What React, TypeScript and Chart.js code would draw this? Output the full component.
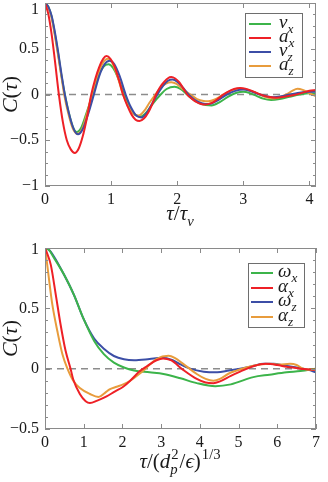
import React, { useEffect, useRef } from "react";
import { Chart, registerables } from "chart.js";
Chart.register(...registerables);

// ---------- top panel data ----------
const topXTicks = [0, 1, 2, 3, 4];
const topYTicks = [-1, -0.5, 0, 0.5, 1];

const vxT = [0, 0.05, 0.1, 0.15, 0.2, 0.25, 0.3, 0.36, 0.42, 0.48, 0.55, 0.62, 0.72, 0.8, 0.88, 0.96, 1.03, 1.1, 1.2, 1.28, 1.36, 1.45, 1.53, 1.62, 1.75, 1.84, 1.96, 2.05, 2.15, 2.25, 2.35, 2.52, 2.65, 2.78, 2.9, 3.0, 3.1, 3.2, 3.3, 3.42, 3.55, 3.7, 3.85, 4.0, 4.1];
const vxC = [1, 0.96, 0.85, 0.66, 0.44, 0.2, 0, -0.2, -0.35, -0.41, -0.36, -0.22, 0, 0.19, 0.3, 0.33, 0.29, 0.19, 0, -0.14, -0.22, -0.24, -0.2, -0.11, 0, 0.06, 0.084, 0.06, 0, -0.06, -0.1, -0.12, -0.08, -0.02, 0.02, 0.03, 0.015, -0.015, -0.045, -0.06, -0.05, -0.025, 0, 0.015, 0.01];

const axT = [0, 0.05, 0.1, 0.15, 0.21, 0.27, 0.33, 0.39, 0.45, 0.51, 0.57, 0.63, 0.7, 0.76, 0.82, 0.88, 0.93, 0.99, 1.05, 1.12, 1.18, 1.25, 1.31, 1.37, 1.43, 1.5, 1.56, 1.62, 1.68, 1.74, 1.8, 1.86, 1.91, 1.97, 2.03, 2.09, 2.15, 2.22, 2.29, 2.36, 2.42, 2.49, 2.56, 2.63, 2.7, 2.78, 2.86, 2.95, 3.03, 3.12, 3.2, 3.3, 3.4, 3.5, 3.62, 3.75, 3.88, 4.0, 4.1];
const axC = [1, 0.88, 0.66, 0.37, 0, -0.3, -0.5, -0.6, -0.64, -0.59, -0.46, -0.27, 0, 0.17, 0.3, 0.39, 0.42, 0.39, 0.31, 0.155, 0, -0.13, -0.22, -0.275, -0.29, -0.26, -0.2, -0.11, 0, 0.08, 0.135, 0.178, 0.19, 0.175, 0.135, 0.07, 0, -0.045, -0.082, -0.103, -0.11, -0.1, -0.077, -0.04, 0, 0.035, 0.06, 0.07, 0.064, 0.043, 0.018, -0.01, -0.028, -0.035, -0.025, -0.008, 0.015, 0.04, 0.05];

const vzT = [0, 0.05, 0.1, 0.15, 0.2, 0.25, 0.3, 0.36, 0.43, 0.5, 0.57, 0.65, 0.74, 0.82, 0.9, 0.98, 1.05, 1.13, 1.22, 1.3, 1.38, 1.46, 1.54, 1.62, 1.7, 1.78, 1.86, 1.93, 2.0, 2.08, 2.17, 2.27, 2.37, 2.48, 2.6, 2.75, 2.88, 3.0, 3.12, 3.25, 3.35, 3.45, 3.58, 3.7, 3.85, 4.0, 4.1];
const vzC = [1, 0.96, 0.86, 0.68, 0.46, 0.22, 0, -0.2, -0.37, -0.435, -0.38, -0.22, 0, 0.2, 0.33, 0.37, 0.33, 0.2, 0, -0.14, -0.23, -0.25, -0.2, -0.1, 0, 0.09, 0.15, 0.163, 0.14, 0.08, 0, -0.06, -0.095, -0.105, -0.07, 0, 0.04, 0.055, 0.035, 0, -0.02, -0.03, -0.02, 0, 0.02, 0.03, 0.03];

const azT = [0, 0.05, 0.1, 0.15, 0.2, 0.25, 0.29, 0.35, 0.42, 0.49, 0.56, 0.63, 0.71, 0.79, 0.87, 0.955, 1.02, 1.1, 1.18, 1.26, 1.34, 1.42, 1.5, 1.58, 1.67, 1.75, 1.83, 1.91, 1.99, 2.08, 2.2, 2.3, 2.4, 2.47, 2.57, 2.7, 2.82, 2.95, 3.05, 3.15, 3.25, 3.35, 3.45, 3.55, 3.65, 3.74, 3.82, 3.9, 4.0, 4.1];
const azC = [1, 0.95, 0.84, 0.64, 0.42, 0.19, 0, -0.2, -0.37, -0.43, -0.38, -0.22, 0, 0.2, 0.34, 0.39, 0.34, 0.19, 0, -0.13, -0.21, -0.23, -0.18, -0.09, 0, 0.075, 0.12, 0.134, 0.115, 0.06, 0, -0.05, -0.072, -0.075, -0.055, 0, 0.045, 0.065, 0.055, 0.03, 0, -0.03, -0.045, -0.03, 0, 0.04, 0.062, 0.05, 0.015, -0.02];

// ---------- bottom panel data ----------
const botXTicks = [0, 1, 2, 3, 4, 5, 6, 7];
const botYTicks = [-0.5, 0, 0.5, 1];

const wxT = [0, 0.1, 0.23, 0.49, 0.75, 1.0, 1.27, 1.52, 1.78, 2.04, 2.3, 2.7, 3.06, 3.5, 3.92, 4.4, 4.8, 5.38, 5.8, 6.24, 6.6, 7.0];
const wxC = [1, 0.985, 0.92, 0.78, 0.61, 0.41, 0.23, 0.12, 0.05, 0.01, -0.015, -0.03, -0.044, -0.08, -0.12, -0.145, -0.13, -0.07, -0.05, -0.03, -0.02, 0];

const alxT = [0, 0.05, 0.15, 0.28, 0.4, 0.53, 0.66, 0.73, 0.9, 1.05, 1.16, 1.35, 1.59, 1.8, 2.02, 2.2, 2.45, 2.63, 2.88, 3.05, 3.25, 3.57, 3.92, 4.15, 4.35, 4.52, 4.8, 5.04, 5.38, 5.7, 6.0, 6.24, 6.6, 6.93, 7.0];
const alxC = [1, 0.96, 0.86, 0.61, 0.37, 0.15, 0, -0.09, -0.21, -0.27, -0.285, -0.265, -0.23, -0.19, -0.15, -0.1, -0.02, 0.02, 0.07, 0.085, 0.07, -0.01, -0.085, -0.115, -0.12, -0.105, -0.06, -0.025, 0.02, 0.04, 0.03, 0.015, 0, -0.01, -0.005];

const wzT = [0, 0.1, 0.23, 0.49, 0.75, 1.0, 1.27, 1.52, 1.78, 2.04, 2.3, 2.7, 3.0, 3.3, 3.5, 3.75, 4.1, 4.45, 4.75, 5.04, 5.35, 5.65, 5.9, 6.2, 6.5, 6.8, 7.0];
const wzC = [1, 0.985, 0.93, 0.78, 0.61, 0.41, 0.25, 0.165, 0.105, 0.078, 0.07, 0.08, 0.09, 0.07, 0.035, 0, -0.025, -0.03, -0.015, 0, 0.02, 0.04, 0.04, 0.025, 0.01, -0.01, -0.03];

const alzT = [0, 0.05, 0.1, 0.19, 0.32, 0.45, 0.58, 0.73, 0.9, 1.16, 1.38, 1.55, 1.68, 1.85, 2.02, 2.2, 2.45, 2.63, 2.88, 3.19, 3.35, 3.57, 3.92, 4.15, 4.35, 4.52, 4.75, 4.95, 5.38, 5.81, 6.05, 6.33, 6.5, 6.67, 7.0];
const alzC = [1, 0.88, 0.75, 0.53, 0.31, 0.12, 0, -0.1, -0.16, -0.21, -0.235, -0.2, -0.17, -0.15, -0.13, -0.1, -0.04, 0.01, 0.08, 0.107, 0.09, 0.04, -0.044, -0.085, -0.1, -0.085, -0.04, -0.016, 0.025, 0.04, 0.035, 0.04, 0.03, 0, -0.01];

const GREEN = "#3cb44a";
const RED = "#ee2026";
const BLUE = "#3c4ea6";
const ORANGE = "#e89c3c";

const SERIF = '"Liberation Serif", serif';
const INK = "#1a1a1a";

type Seg = { t: string; it?: boolean; sub?: string; sup?: string };

function segFont(size: number, it?: boolean) {
  return `${it ? "italic " : ""}${size}px ${SERIF}`;
}

function layoutSegs(ctx: CanvasRenderingContext2D, segs: Seg[], size: number, draw: boolean, x0: number, y: number) {
  let cx = x0;
  for (const s of segs) {
    ctx.font = segFont(size, s.it);
    if (draw) ctx.fillText(s.t, cx, y);
    cx += ctx.measureText(s.t).width;
    let extra = 0;
    if (s.sub) {
      ctx.font = segFont(size * 0.7, /[a-z]/.test(s.sub));
      if (draw) ctx.fillText(s.sub, cx, y + size * 0.28);
      extra = Math.max(extra, ctx.measureText(s.sub).width);
    }
    if (s.sup) {
      ctx.font = segFont(size * 0.7, false);
      if (draw) ctx.fillText(s.sup, cx + 1, y - size * 0.42);
      extra = Math.max(extra, ctx.measureText(s.sup).width + 1);
    }
    cx += extra + (extra ? 1 : 0);
  }
  return cx - x0;
}

function drawSegs(ctx: CanvasRenderingContext2D, segs: Seg[], x: number, y: number, size: number, align: "left" | "center") {
  ctx.textAlign = "left";
  ctx.textBaseline = "alphabetic";
  const w = layoutSegs(ctx, segs, size, false, 0, 0);
  const x0 = align === "center" ? x - w / 2 : x;
  layoutSegs(ctx, segs, size, true, x0, y);
}

type Decor = {
  xTitle: Seg[];
  xTitleY: number;
  yTitle: Seg[];
  yTitleX: number;
  yMinor: number;
  yTicks: number[];
  legend: { color: string; label: Seg[] }[];
  legendBox: { x: number; y: number; w: number; h: number; lineX0: number; lineX1: number; textX: number; rowY: number[] };
  fontSize: number;
};

const fmt = (v: number) => (v < 0 ? "\u2212" + String(Math.abs(v)) : String(v));

function makePlugin(d: Decor) {
  return {
    id: "decor",
    beforeDatasetsDraw(chart: any) {
      const ctx: CanvasRenderingContext2D = chart.ctx;
      const a = chart.chartArea;
      const ys = chart.scales.y;
      const y0 = ys.getPixelForValue(0);
      ctx.save();
      ctx.strokeStyle = "#8c8c8c";
      ctx.lineWidth = 1.5;
      ctx.setLineDash([7, 5]);
      ctx.beginPath();
      ctx.moveTo(a.left, y0);
      ctx.lineTo(a.right, y0);
      ctx.stroke();
      ctx.restore();
    },
    afterDatasetsDraw(chart: any) {
      const ctx: CanvasRenderingContext2D = chart.ctx;
      const a = chart.chartArea;
      const xs = chart.scales.x;
      const ys = chart.scales.y;
      ctx.save();
      // box
      ctx.strokeStyle = "#8a8a8a";
      ctx.lineWidth = 1;
      ctx.strokeRect(a.left + 0.5, a.top + 0.5, a.right - a.left - 1, a.bottom - a.top - 1);
      // inward ticks
      ctx.beginPath();
      for (const t of xs.ticks) {
        const px = Math.round(xs.getPixelForValue(t.value)) + 0.5;
        ctx.moveTo(px, a.bottom);
        ctx.lineTo(px, a.bottom - 5);
        ctx.moveTo(px, a.top);
        ctx.lineTo(px, a.top + 5);
      }
      const n = Math.round((ys.max - ys.min) / d.yMinor);
      for (let i = 0; i <= n; i++) {
        const v = ys.min + i * d.yMinor;
        const major = Math.abs(v * 2 - Math.round(v * 2)) < 1e-6;
        const L = major ? 5 : 3;
        const py = Math.round(ys.getPixelForValue(v)) + 0.5;
        ctx.moveTo(a.left, py);
        ctx.lineTo(a.left + L, py);
        ctx.moveTo(a.right, py);
        ctx.lineTo(a.right - L, py);
      }
      ctx.stroke();
      // y tick labels
      ctx.fillStyle = INK;
      ctx.font = `16px ${SERIF}`;
      ctx.textAlign = "right";
      ctx.textBaseline = "middle";
      for (const v of d.yTicks) {
        const py = Math.max(ys.getPixelForValue(v), 10);
        ctx.fillText(fmt(v), a.left - 6, py);
      }
      // legend
      const L = d.legendBox;
      ctx.fillStyle = "#ffffff";
      ctx.fillRect(L.x, L.y, L.w, L.h);
      ctx.strokeStyle = "#6e6e6e";
      ctx.lineWidth = 1;
      ctx.strokeRect(L.x + 0.5, L.y + 0.5, L.w, L.h);
      d.legend.forEach((e, i) => {
        const ry = L.rowY[i];
        ctx.strokeStyle = e.color;
        ctx.lineWidth = 2;
        ctx.beginPath();
        ctx.moveTo(L.lineX0, ry);
        ctx.lineTo(L.lineX1, ry);
        ctx.stroke();
        ctx.fillStyle = INK;
        drawSegs(ctx, e.label, L.textX, ry + 4, d.fontSize, "left");
      });
      // axis titles
      ctx.fillStyle = INK;
      drawSegs(ctx, d.xTitle, (a.left + a.right) / 2, d.xTitleY, 21, "center");
      ctx.save();
      ctx.translate(d.yTitleX, (a.top + a.bottom) / 2);
      ctx.rotate(-Math.PI / 2);
      drawSegs(ctx, d.yTitle, 0, 0, 22, "center");
      ctx.restore();
      ctx.restore();
    },
  };
}

function zip(t: number[], c: number[]) {
  return t.map((x, i) => ({ x, y: c[i] }));
}

type PanelProps = {
  width: number;
  height: number;
  series: { color: string; t: number[]; c: number[] }[];
  xMax: number;
  yMin: number;
  xTicks: number[];
  padTop: number;
  xAxisH: number;
  decor: Decor;
};

function Panel(p: PanelProps) {
  const ref = useRef<HTMLCanvasElement>(null);
  useEffect(() => {
    const chart = new Chart(ref.current as HTMLCanvasElement, {
      type: "line",
      data: {
        datasets: p.series.map((s) => ({
          data: zip(s.t, s.c),
          borderColor: s.color,
          borderWidth: 2,
          pointRadius: 0,
          fill: false,
          cubicInterpolationMode: "monotone" as const,
        })),
      },
      options: {
        responsive: false,
        animation: false,
        devicePixelRatio: 1,
        layout: { padding: { top: p.padTop, right: 12, left: 0, bottom: 0 } },
        plugins: { legend: { display: false }, tooltip: { enabled: false } },
        scales: {
          x: {
            type: "linear",
            min: 0,
            max: p.xMax,
            grid: { display: false, drawTicks: false },
            border: { display: false },
            afterBuildTicks: (s: any) => {
              s.ticks = p.xTicks.map((v) => ({ value: v }));
            },
            afterFit: (s: any) => {
              s.height = p.xAxisH;
              s.paddingLeft = 0;
              s.paddingRight = 0;
            },
            ticks: {
              padding: 4,
              maxRotation: 0,
              autoSkip: false,
              color: INK,
              font: { family: SERIF, size: 16 },
              callback: (v: any) => fmt(Number(v)),
            },
          },
          y: {
            type: "linear",
            min: p.yMin,
            max: 1,
            grid: { display: false, drawTicks: false },
            border: { display: false },
            afterFit: (s: any) => {
              s.width = 45;
              s.paddingTop = 0;
              s.paddingBottom = 0;
            },
            ticks: { display: false },
          },
        },
      },
      plugins: [makePlugin(p.decor)],
    });
    return () => chart.destroy();
  }, []);
  return <canvas ref={ref} width={p.width} height={p.height} style={{ display: "block" }} />;
}

const C_TAU: Seg[] = [{ t: "C", it: true }, { t: "(" }, { t: "\u03c4", it: true }, { t: ")" }];

export default function App() {
  const topDecor: Decor = {
    xTitle: [{ t: "\u03c4", it: true }, { t: "/" }, { t: "\u03c4", it: true, sub: "v" }],
    xTitleY: 220,
    yTitle: C_TAU,
    yTitleX: 17,
    yMinor: 0.125,
    yTicks: topYTicks,
    legend: [
      { color: GREEN, label: [{ t: "v", it: true, sub: "x" }] },
      { color: RED, label: [{ t: "a", it: true, sub: "x" }] },
      { color: BLUE, label: [{ t: "v", it: true, sub: "z" }] },
      { color: ORANGE, label: [{ t: "a", it: true, sub: "z" }] },
    ],
    legendBox: { x: 245, y: 13, w: 57, h: 64, lineX0: 249, lineX1: 271, textX: 279, rowY: [24, 38, 52, 66] },
    fontSize: 19,
  };
  const botDecor: Decor = {
    xTitle: [
      { t: "\u03c4", it: true },
      { t: "/(" },
      { t: "d", it: true, sub: "p", sup: "2" },
      { t: "/" },
      { t: "\u03f5", it: true },
      { t: ")", sup: "1/3" },
    ],
    xTitleY: 228,
    yTitle: C_TAU,
    yTitleX: 17,
    yMinor: 0.1,
    yTicks: botYTicks,
    legend: [
      { color: GREEN, label: [{ t: "\u03c9", it: true, sub: "x" }] },
      { color: RED, label: [{ t: "\u03b1", it: true, sub: "x" }] },
      { color: BLUE, label: [{ t: "\u03c9", it: true, sub: "z" }] },
      { color: ORANGE, label: [{ t: "\u03b1", it: true, sub: "z" }] },
    ],
    legendBox: { x: 248, y: 23, w: 56, h: 64, lineX0: 251, lineX1: 273, textX: 278, rowY: [33, 48, 62, 77] },
    fontSize: 19,
  };
  return (
    <div style={{ position: "absolute", left: 0, top: 0, width: 328, height: 482, background: "#fff" }}>
      <Panel
        width={328}
        height={240}
        series={[
          { color: RED, t: axT, c: axC },
          { color: BLUE, t: vzT, c: vzC },
          { color: ORANGE, t: azT, c: azC },
          { color: GREEN, t: vxT, c: vxC },
        ]}
        xMax={4.1}
        yMin={-1}
        xTicks={topXTicks}
        padTop={3}
        xAxisH={54}
        decor={topDecor}
      />
      <Panel
        width={328}
        height={242}
        series={[
          { color: RED, t: alxT, c: alxC },
          { color: ORANGE, t: alzT, c: alzC },
          { color: GREEN, t: wxT, c: wxC },
          { color: BLUE, t: wzT, c: wzC },
        ]}
        xMax={7}
        yMin={-0.5}
        xTicks={botXTicks}
        padTop={8}
        xAxisH={53}
        decor={botDecor}
      />
    </div>
  );
}
